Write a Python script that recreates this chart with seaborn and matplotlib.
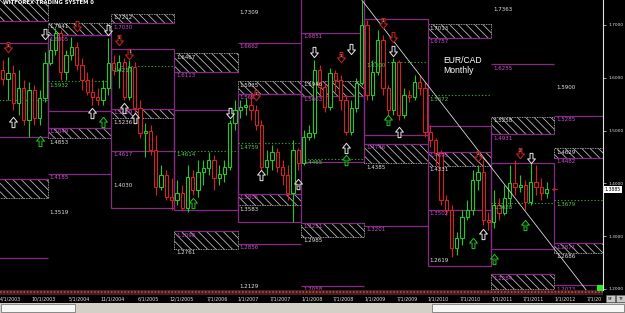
import numpy as np
import pandas as pd
import matplotlib
matplotlib.use("Agg")
import matplotlib.pyplot as plt
import matplotlib.transforms as mtransforms
from matplotlib.patches import Rectangle
from matplotlib.lines import Line2D
from matplotlib.path import Path
from matplotlib.markers import MarkerStyle
import seaborn as sns

# ---------------- data (EUR/CAD monthly, month 0 = Apr 2003) ----------------
opens = [1.615, 1.598, 1.609, 1.552, 1.581, 1.520, 1.577, 1.524, 1.562, 1.628,
         1.653, 1.685, 1.611, 1.643, 1.658, 1.624, 1.596, 1.573, 1.564, 1.558,
         1.581, 1.628, 1.615, 1.630, 1.564, 1.620, 1.543, 1.495, 1.499, 1.463,
         1.393, 1.416, 1.374, 1.369, 1.382, 1.353, 1.412, 1.387, 1.422, 1.429,
         1.444, 1.410, 1.418, 1.431, 1.514, 1.539, 1.545, 1.548, 1.539, 1.511,
         1.431, 1.444, 1.459, 1.431, 1.416, 1.382, 1.463, 1.439, 1.488, 1.495,
         1.615, 1.583, 1.545, 1.609, 1.596, 1.558, 1.497, 1.543, 1.590, 1.700,
         1.567, 1.611, 1.672, 1.581, 1.539, 1.630, 1.530, 1.567, 1.564, 1.592,
         1.581, 1.497, 1.482, 1.458, 1.369, 1.350, 1.278, 1.297, 1.336, 1.350,
         1.406, 1.422, 1.331, 1.327, 1.359, 1.344, 1.372, 1.401, 1.393, 1.397,
         1.365, 1.403, 1.393, 1.382]
closes = [1.598, 1.609, 1.552, 1.581, 1.520, 1.577, 1.524, 1.562, 1.628, 1.653,
          1.685, 1.611, 1.643, 1.658, 1.624, 1.596, 1.573, 1.564, 1.558, 1.581,
          1.628, 1.615, 1.630, 1.564, 1.620, 1.543, 1.495, 1.499, 1.463, 1.393,
          1.416, 1.374, 1.369, 1.382, 1.353, 1.412, 1.387, 1.422, 1.429, 1.444,
          1.410, 1.418, 1.431, 1.514, 1.539, 1.545, 1.548, 1.539, 1.511, 1.431,
          1.444, 1.459, 1.431, 1.416, 1.382, 1.463, 1.439, 1.488, 1.495, 1.615,
          1.583, 1.545, 1.609, 1.596, 1.558, 1.497, 1.543, 1.590, 1.700, 1.567,
          1.611, 1.672, 1.581, 1.539, 1.630, 1.530, 1.567, 1.564, 1.592, 1.581,
          1.497, 1.482, 1.458, 1.369, 1.350, 1.278, 1.297, 1.336, 1.350, 1.406,
          1.422, 1.331, 1.327, 1.359, 1.344, 1.372, 1.401, 1.393, 1.397, 1.365,
          1.403, 1.393, 1.382, 1.3885]
highs = [1.634, 1.639, 1.624, 1.615, 1.596, 1.592, 1.586, 1.577, 1.649, 1.675,
         1.694, 1.691, 1.653, 1.677, 1.668, 1.637, 1.611, 1.600, 1.581, 1.596,
         1.675, 1.643, 1.643, 1.637, 1.634, 1.630, 1.558, 1.514, 1.511, 1.492,
         1.435, 1.425, 1.410, 1.406, 1.397, 1.435, 1.425, 1.444, 1.444, 1.459,
         1.454, 1.435, 1.444, 1.520, 1.558, 1.558, 1.562, 1.571, 1.548, 1.520,
         1.463, 1.473, 1.467, 1.444, 1.435, 1.482, 1.467, 1.501, 1.511, 1.634,
         1.624, 1.592, 1.619, 1.615, 1.605, 1.567, 1.558, 1.600, 1.745, 1.709,
         1.634, 1.691, 1.681, 1.586, 1.637, 1.634, 1.581, 1.577, 1.605, 1.605,
         1.592, 1.511, 1.486, 1.463, 1.378, 1.359, 1.308, 1.350, 1.369, 1.425,
         1.435, 1.444, 1.346, 1.387, 1.372, 1.397, 1.435, 1.444, 1.416, 1.406,
         1.441, 1.435, 1.410, 1.403]
lows = [1.586, 1.558, 1.539, 1.530, 1.511, 1.488, 1.511, 1.511, 1.554, 1.624,
        1.643, 1.596, 1.596, 1.634, 1.615, 1.577, 1.567, 1.548, 1.548, 1.548,
        1.567, 1.605, 1.581, 1.558, 1.558, 1.530, 1.486, 1.450, 1.454, 1.378,
        1.387, 1.369, 1.350, 1.359, 1.350, 1.346, 1.378, 1.374, 1.397, 1.416,
        1.387, 1.397, 1.403, 1.425, 1.501, 1.524, 1.530, 1.520, 1.501, 1.422,
        1.416, 1.425, 1.422, 1.397, 1.369, 1.327, 1.425, 1.435, 1.482, 1.486,
        1.567, 1.535, 1.539, 1.573, 1.539, 1.492, 1.492, 1.535, 1.586, 1.558,
        1.558, 1.605, 1.567, 1.524, 1.530, 1.520, 1.524, 1.554, 1.558, 1.567,
        1.488, 1.469, 1.435, 1.359, 1.340, 1.261, 1.264, 1.283, 1.331, 1.340,
        1.387, 1.321, 1.312, 1.315, 1.331, 1.340, 1.359, 1.378, 1.384, 1.350,
        1.359, 1.378, 1.369, 1.372]

tick_m = [0, 6, 13, 19, 26, 32, 39, 45, 51, 57, 63, 69, 75, 81, 87, 93, 99, 105, 111]
tick_labels = ["4/1/2003", "10/1/2003", "5/1/2004", "11/1/2004", "6/1/2005",
               "12/1/2005", "7/1/2006", "1/1/2007", "7/1/2007", "1/1/2008",
               "7/1/2008", "1/1/2009", "7/1/2009", "1/1/2010", "7/1/2010",
               "1/1/2011", "7/1/2011", "1/1/2012", "7/1/2012"]
price_ticks = [1.2, 1.3, 1.4, 1.5, 1.6, 1.7]

# yearly boxes: start month, end month, top, bottom
box_m0 = [-1, 8.5, 20.5, 32.5, 44.5, 56.5, 68.5, 80.5, 92.5]
box_m1 = [8.5, 20.5, 32.5, 44.5, 56.5, 68.5, 80.5, 92.5, 104.5]
box_top = [1.666, 1.681, 1.654, 1.539, 1.569, 1.760, 1.711, 1.509, 1.439]
box_bot = [1.488, 1.537, 1.353, 1.350, 1.327, 1.440, 1.492, 1.244, 1.276]

# hatched zones
zone_m0 = [-1, -1, 8.5, 8.5, 20.5, 20.5, 32.5, 32.5, 44.5, 44.5, 56.5, 56.5,
           68.5, 80.5, 80.5, 92.5, 92.5, 104.5, 104.5]
zone_m1 = [8.5, 8.5, 20.5, 20.5, 32.5, 32.5, 44.5, 44.5, 56.5, 56.5, 68.5, 68.5,
           80.5, 92.5, 92.5, 104.5, 104.5, 116.5, 116.5]
zone_top = [1.760, 1.408, 1.7041, 1.5049, 1.7212, 1.5409, 1.6467, 1.3098, 1.5935,
            1.3805, 1.5946, 1.3251, 1.4746, 1.7013, 1.4595, 1.5258, 1.2284, 1.4670, 1.2871]
zone_bot = [1.707, 1.372, 1.6805, 1.4853, 1.7030, 1.5236, 1.6113, 1.2761, 1.5693,
            1.3583, 1.5663, 1.2985, 1.4385, 1.6757, 1.4331, 1.4931, 1.200, 1.4482, 1.2686]

# purple level lines with magenta labels
lvl_m0 = [-1, -1, -1, 8.5, 8.5, 8.5, 20.5, 20.5, 20.5, 32.5, 32.5, 44.5, 44.5, 44.5,
          44.5, 56.5, 56.5, 56.5, 56.5, 68.5, 68.5, 80.5, 80.5, 80.5, 92.5, 92.5,
          92.5, 104.5, 104.5, 104.5, 104.5]
lvl_m1 = [8.5, 8.5, 8.5, 20.5, 20.5, 20.5, 32.5, 32.5, 32.5, 44.5, 44.5, 56.5, 56.5, 56.5,
          56.5, 68.5, 68.5, 68.5, 68.5, 80.5, 80.5, 92.5, 92.5, 92.5, 104.5, 104.5,
          104.5, 116.5, 116.5, 116.5, 116.5]
lvl_p = [1.707, 1.408, 1.259, 1.6805, 1.5049, 1.4185, 1.7030, 1.5409, 1.4617, 1.6113,
         1.3098, 1.6662, 1.5693, 1.3805, 1.2856, 1.6851, 1.5663, 1.3251, 1.2058, 1.4746,
         1.3201, 1.6757, 1.4595, 1.3502, 1.6255, 1.4931, 1.2284, 1.5285, 1.4482, 1.2871,
         1.2073]
lvl_text = ["", "", "", "1.6805", "1.5049", "1.4185", "1.7030", "1.5409", "1.4617", "1.6113",
            "1.3098", "1.6662", "1.5693", "1.3805", "1.2856", "1.6851", "1.5663", "1.3251",
            "1.2058", "1.4746", "1.3201", "1.6757", "1.4595", "1.3502", "1.6255", "1.4931",
            "1.2284", "1.5285", "1.4482", "1.2871", "1.2073"]

# green dotted pivot lines
piv_m0 = [-1, 8.5, 20.5, 32.5, 44.5, 56.5, 68.5, 80.5, 92.5, 104.5]
piv_m1 = [8.5, 20.5, 32.5, 44.5, 56.5, 68.5, 80.5, 92.5, 104.5, 116.5]
piv_p = [1.558, 1.5932, 1.6217, 1.4614, 1.4759, 1.4465, 1.6300, 1.5672, 1.3628, 1.3679]
piv_text = ["", "1.5932", "1.6217", "1.4614", "1.4759", "1.4465", "1.6300", "1.5672",
            "1.3628", "1.3679"]

# white price labels
wl_m = [8.5, 20.5, 32.5, 44.5, 56.5, 80.5, 92.5, 104.5, 8.5, 20.5, 32.5, 44.5, 56.5,
        68.5, 80.5, 104.5, 8.5, 20.5, 44.5, 44.5, 80.5, 92.5, 104.5]
wl_p = [1.7041, 1.7212, 1.6467, 1.5935, 1.5946, 1.7013, 1.5258, 1.4670, 1.4853, 1.5236,
        1.2761, 1.3583, 1.2985, 1.4385, 1.4331, 1.2686, 1.3519, 1.4030, 1.7309, 1.2129,
        1.2619, 1.7363, 1.5900]
wl_text = ["1.7041", "1.7212", "1.6467", "1.5935", "1.5946", "1.7013", "1.5258", "1.4629",
           "1.4853", "1.5236", "1.2761", "1.3583", "1.2985", "1.4385", "1.4331", "1.2686",
           "1.3519", "1.4030", "1.7309", "1.2129", "1.2619", "1.7363", "1.5900"]

# signal arrows
arrow_m = [1, 8, 2, 7, 14, 20, 17, 19, 22, 24, 23, 25, 36, 43, 48, 49, 56, 59, 64, 66,
           65, 65, 72, 74, 74, 73, 75, 90, 91, 89, 93, 98, 100, 99]
arrow_p = [1.658, 1.683, 1.516, 1.480, 1.698, 1.691, 1.533, 1.516, 1.672, 1.645, 1.543,
           1.524, 1.363, 1.533, 1.567, 1.416, 1.399, 1.649, 1.639, 1.654, 1.467, 1.444,
           1.704, 1.677, 1.651, 1.520, 1.497, 1.452, 1.304, 1.287, 1.257, 1.458, 1.448, 1.321]
arrow_dir = ["down", "down", "up", "up", "down", "down", "up", "up", "down", "down", "up",
             "up", "up", "down", "down", "up", "up", "down", "down", "down", "up", "up",
             "down", "down", "down", "up", "up", "down", "up", "up", "up", "down", "down", "up"]
arrow_col = ["red", "white", "white", "green", "red", "white", "white", "green", "red", "red",
             "white", "white", "green", "white", "red", "white", "white", "white", "red",
             "white", "white", "green", "red", "red", "white", "green", "white", "red",
             "white", "green", "green", "red", "white", "green"]
arrow_num = ["1", "", "", "", "", "", "", "", "1", "1", "", "", "", "", "1", "", "1", "",
             "1", "", "", "1", "1", "", "", "2", "", "2", "", "", "1", "2", "", "3"]

trend_m = [68.0, 110.5]
trend_p = [1.7473, 1.1981]

# ---------------- style ----------------
sns.set_style("dark", rc={"axes.facecolor": "black", "figure.facecolor": "black"})
plt.rcParams["font.family"] = ["DejaVu Sans"]
plt.rcParams["hatch.linewidth"] = 0.55

GREEN = "#22c922"
RED = "#d42222"
PURPLE = "#862a86"
MAGENTA = "#cf4fcf"
GTXT = "#4fcf4f"
GLINE = "#3a9a3a"
WTXT = "#e2e2e2"
FS = 4.0

fig = plt.figure(figsize=(6.25, 3.13), dpi=100, facecolor="black")
ax = fig.add_axes([0, 23 / 313, 603 / 625, 290 / 313])
ax.set_facecolor("black")
ax.set_xlim(-0.511, 113.69)
ax.set_ylim(1.1981, 1.7473)
ax.grid(False)

lab_tr = mtransforms.offset_copy(ax.transData, fig=fig, x=2, y=-1.5, units="dots")

# hatched zones
for m0, m1, t, b in zip(zone_m0, zone_m1, zone_top, zone_bot):
    ax.add_patch(Rectangle((m0, b), m1 - m0, t - b, facecolor="black", edgecolor="#c4c4c4",
                           hatch="\\\\\\\\", linewidth=0.6, linestyle=(0, (1, 1)), zorder=1))

# boxes
for m0, m1, t, b in zip(box_m0, box_m1, box_top, box_bot):
    ax.add_patch(Rectangle((m0, b), m1 - m0, t - b, facecolor="none", edgecolor=PURPLE,
                           linewidth=0.9, zorder=2))

# purple levels
ax.hlines(lvl_p, lvl_m0, lvl_m1, colors=PURPLE, linewidth=0.9, zorder=2)
for m0, p, t in zip(lvl_m0, lvl_p, lvl_text):
    if t:
        ax.text(m0, p, t, transform=lab_tr, color=MAGENTA, fontsize=FS, va="top",
                ha="left", zorder=6)

# green pivots
ax.hlines(piv_p, piv_m0, piv_m1, colors=GLINE, linewidth=0.8, linestyles=(0, (1.2, 1.8)),
          zorder=2)
for m0, p, t in zip(piv_m0, piv_p, piv_text):
    if t:
        ax.text(m0, p, t, transform=lab_tr, color=GTXT, fontsize=FS, va="top", ha="left",
                zorder=6)

# white labels
for m0, p, t in zip(wl_m, wl_p, wl_text):
    ax.text(m0, p, t, transform=lab_tr, color=WTXT, fontsize=FS, va="top", ha="left",
            zorder=6)

# candles
df = pd.DataFrame({"o": opens, "h": highs, "l": lows, "c": closes})
df["m"] = np.arange(len(df))
cols = np.where(df["c"] >= df["o"], GREEN, RED)
ax.vlines(df["m"], df["l"], df["h"], colors=cols, linewidth=0.8, zorder=3)
ax.bar(df["m"], (df["c"] - df["o"]).abs().clip(lower=0.0008),
       bottom=np.minimum(df["o"], df["c"]), width=0.62, facecolor="black",
       edgecolor=cols, linewidth=0.8, zorder=4)

# trend line
sns.lineplot(x=trend_m, y=trend_p, ax=ax, color="#d8d8d8", linewidth=0.6, zorder=5)

# arrows
up_verts = [(0, 0.5), (0.38, 0.04), (0.14, 0.04), (0.14, -0.5), (-0.14, -0.5),
            (-0.14, 0.04), (-0.38, 0.04), (0, 0.5)]
codes = [Path.MOVETO] + [Path.LINETO] * 6 + [Path.CLOSEPOLY]
up_mk = MarkerStyle(Path(up_verts, codes))
dn_mk = MarkerStyle(Path([(x, -y) for x, y in up_verts], codes))
cmap = {"red": RED, "white": "#e8e8e8", "green": GREEN}
for m, p, d, c, n in zip(arrow_m, arrow_p, arrow_dir, arrow_col, arrow_num):
    ax.scatter([m], [p], marker=up_mk if d == "up" else dn_mk, s=55, facecolors="black",
               edgecolors=cmap[c], linewidths=0.7, zorder=7)
    if n:
        ax.text(m, p + (0.003 if d == "down" else -0.003), n, fontsize=3.2, ha="center",
                va="center", color="#e8e8e8" if c != "green" else GREEN, zorder=8)

# current price marker
last_m, last_p = df["m"].iloc[-1], df["c"].iloc[-1]
ax.annotate("", xy=(last_m + 0.4, last_p), xytext=(last_m + 2.6, last_p),
            arrowprops=dict(arrowstyle="-|>", color=RED, lw=0.7, mutation_scale=4),
            zorder=7)
ax.text(1.003, last_p, f"{last_p:.4f}", transform=mtransforms.blended_transform_factory(
    ax.transAxes, ax.transData), fontsize=3.3, color="black", va="center", ha="left",
    bbox=dict(facecolor="white", edgecolor="none", pad=0.5), zorder=9, clip_on=False)

# axes
for s in ["left", "top", "bottom"]:
    ax.spines[s].set_visible(False)
ax.spines["right"].set_color("#e0e0e0")
ax.spines["right"].set_linewidth(0.8)
ax.yaxis.tick_right()
ax.set_yticks(price_ticks)
ax.set_yticklabels([f"{v:.4f}" for v in price_ticks])
ax.tick_params(axis="y", colors="#e0e0e0", labelsize=3.2, length=2.5, width=0.5, pad=1.2)
ax.set_xticks(tick_m)
ax.set_xticklabels(tick_labels)
ax.tick_params(axis="x", colors="#e0e0e0", labelsize=3.4, length=0, pad=4.6)
shift = mtransforms.ScaledTranslation(-2.5 / 100, 0, fig.dpi_scale_trans)
clipbox = mtransforms.TransformedBbox(mtransforms.Bbox([[0, 0], [602 / 625, 1]]),
                                      fig.transFigure)
for lab in ax.get_xticklabels():
    lab.set_horizontalalignment("left")
    lab.set_transform(lab.get_transform() + shift)
    lab.set_clip_box(clipbox)
    lab.set_clip_on(True)
ax.set_xlabel("")
ax.set_ylabel("")

# texts
fig.text(3 / 625, 1 - 2.5 / 313, "WITFOREX TRADING SYSTEM 0", fontsize=3.8, color="white",
         weight="bold", va="center", ha="left")
fig.text(443 / 625, 1 - 56 / 313, "EUR/CAD", fontsize=6.2, color="white",
         family=["Liberation Sans", "DejaVu Sans"], va="top", ha="left")
fig.text(443 / 625, 1 - 66 / 313, "Monthly", fontsize=6.2, color="white",
         family=["Liberation Sans", "DejaVu Sans"], va="top", ha="left")

# bottom bands
fig.add_artist(Rectangle((0, (313 - 294.5) / 313), 603 / 625, 5 / 313,
                         transform=fig.transFigure, facecolor="#4d1a1a", edgecolor="none",
                         zorder=5))
fig.add_artist(Line2D([0, 603 / 625], [(313 - 292) / 313] * 2, transform=fig.transFigure,
                      color="#b85a5a", lw=1.1, ls=(0, (1, 1.2)), zorder=6))
fig.add_artist(Rectangle((0, 0), 1, 10.5 / 313, transform=fig.transFigure,
                         facecolor="#d4d0c8", edgecolor="none", zorder=5))
fig.add_artist(Rectangle((1 / 625, 1 / 313), 74 / 625, 8 / 313, transform=fig.transFigure,
                         facecolor="#f6f6f6", edgecolor="#7a7a7a", lw=0.6, zorder=6))
fig.add_artist(Rectangle((432 / 625, 1 / 313), 192 / 625, 8 / 313, transform=fig.transFigure,
                         facecolor="#f6f6f6", edgecolor="#7a7a7a", lw=0.6, zorder=6))
for x0, t in [(606, "5F"), (615.5, "TF")]:
    fig.add_artist(Rectangle((x0 / 625, (313 - 302) / 313), 9 / 625, 7 / 313,
                             transform=fig.transFigure, facecolor="#c8c8c8",
                             edgecolor="#707070", lw=0.4, zorder=6))
    fig.text((x0 + 4.5) / 625, (313 - 298.5) / 313, t, fontsize=3.0, color="black",
             ha="center", va="center", zorder=7)
fig.add_artist(Rectangle((597 / 625, (313 - 291) / 313), 6 / 625, 6 / 313,
                         transform=fig.transFigure, facecolor="#22ee22", edgecolor="none",
                         zorder=6))

fig.savefig("out.png", dpi=100, facecolor="black")
